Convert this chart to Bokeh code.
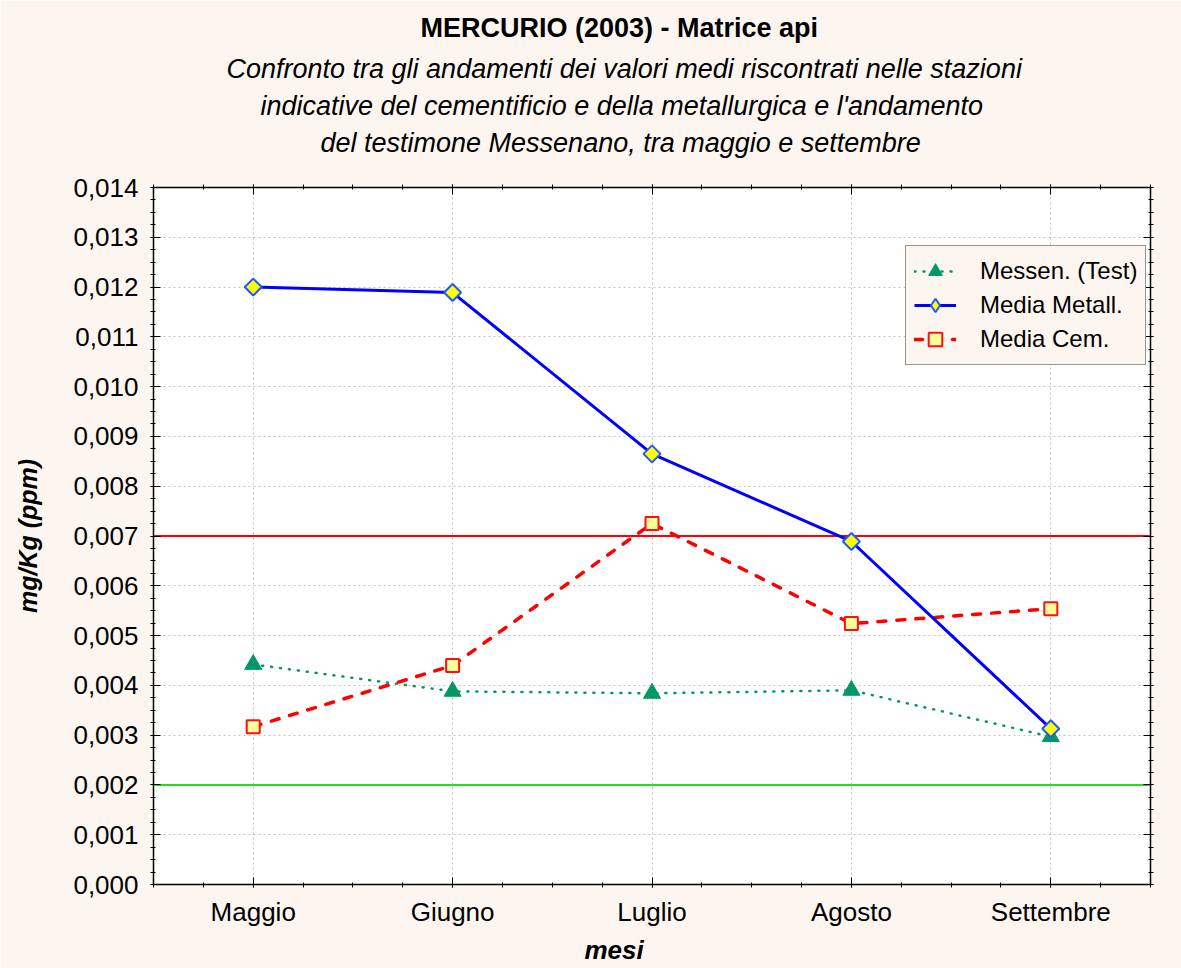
import math
from bokeh.plotting import figure
from bokeh.models import (Legend, LegendItem, Span, LinearAxis, FixedTicker, Title,
                          CustomJSTickFormatter, Range1d, Grid, ColumnDataSource)
from bokeh.embed import file_html
from bokeh.resources import INLINE

# ---- data ----
months = ["Maggio", "Giugno", "Luglio", "Agosto", "Settembre"]
messen_test = [0.00442, 0.00388, 0.00384, 0.00390, 0.00297]
media_metall = [0.01200, 0.01189, 0.00865, 0.00689, 0.00313]
media_cem = [0.00317, 0.00440, 0.00725, 0.00524, 0.00554]
soglia_alta = 0.007
soglia_bassa = 0.002
y_ticks = [0.000, 0.001, 0.002, 0.003, 0.004, 0.005, 0.006, 0.007,
           0.008, 0.009, 0.010, 0.011, 0.012, 0.013, 0.014]

title_text = "MERCURIO (2003) - Matrice api"
subtitle_lines = [
    "Confronto tra gli andamenti dei valori medi riscontrati nelle stazioni",
    "indicative del cementificio e della metallurgica e l'andamento",
    "del testimone Messenano, tra maggio e settembre",
]
x_label = "mesi"
y_label = "mg/Kg (ppm)"

xs = list(range(len(months)))
src = ColumnDataSource(dict(x=xs, messen=messen_test, metall=media_metall, cem=media_cem))

BG = "#FDF6F0"
FONT = "Liberation Sans"

p = figure(width=1181, height=968, x_range=Range1d(-0.5, len(months) - 0.5),
           y_range=Range1d(y_ticks[0], y_ticks[-1]), title=None,
           output_backend="svg", toolbar_location=None,
           x_axis_type=None, y_axis_type=None,
           min_border_left=153, min_border_right=31, min_border_top=187, min_border_bottom=84,
           background_fill_color="white", border_fill_color=BG,
           outline_line_color="black", outline_line_width=1.5)

x_minor = [-0.5 + 0.25 * k for k in range(4 * len(months) + 1)]
y_minor = [y_ticks[0] + 0.00025 * k for k in range(4 * (len(y_ticks) - 1) + 1)]
xticker = FixedTicker(ticks=xs, minor_ticks=x_minor)
yticker = FixedTicker(ticks=y_ticks, minor_ticks=y_minor)

xfmt = CustomJSTickFormatter(args=dict(labels=months), code="return labels[Math.round(tick)] || '';")
yfmt = CustomJSTickFormatter(code="return tick.toFixed(3).replace('.', ',');")
blank = CustomJSTickFormatter(code="return '';")


def style_axis(ax):
    ax.axis_line_color = "black"
    ax.major_tick_line_color = "black"
    ax.minor_tick_line_color = "black"
    ax.major_tick_in = 7
    ax.major_tick_out = 3
    ax.minor_tick_in = 2
    ax.minor_tick_out = 3
    ax.major_label_text_font = FONT
    ax.major_label_text_font_size = "26px"
    ax.major_label_text_color = "black"


bottom = LinearAxis(ticker=xticker, formatter=xfmt, major_label_standoff=9)
left = LinearAxis(ticker=yticker, formatter=yfmt, major_label_standoff=12,
                  axis_label=y_label, axis_label_standoff=28,
                  axis_label_text_font=FONT, axis_label_text_font_style="bold italic",
                  axis_label_text_font_size="25px", axis_label_text_color="black")
top = LinearAxis(ticker=xticker, formatter=blank, major_label_standoff=0)
right = LinearAxis(ticker=yticker, formatter=blank, major_label_standoff=0)
for ax in (bottom, left, top, right):
    style_axis(ax)
top.major_label_text_font_size = "0px"
right.major_label_text_font_size = "0px"
p.add_layout(bottom, "below")
p.add_layout(left, "left")
p.add_layout(right, "right")

for dim, tk in ((0, xticker), (1, yticker)):
    p.add_layout(Grid(dimension=dim, ticker=tk, grid_line_color="#C4C4C4",
                      grid_line_dash="2 3", grid_line_width=1))

p.add_layout(Span(location=soglia_alta, dimension="width", line_color="#FF0000",
                  line_width=2, level="underlay"))
p.add_layout(Span(location=soglia_bassa, dimension="width", line_color="#22DD22",
                  line_width=2, level="underlay"))

# series
l_messen = p.line("x", "messen", source=src, line_color="#009966", line_width=2.5,
                  line_dash="1 8", line_cap="round")
l_cem = p.line("x", "cem", source=src, line_color="#FF0000", line_width=3.5,
               line_dash="8 11", line_cap="round")
l_metall = p.line("x", "metall", source=src, line_color="#0000FF", line_width=3)
m_messen = p.scatter("x", "messen", source=src, marker="triangle", size=17,
                     fill_color="#009966", line_color="#009966", line_width=1)
m_metall = p.scatter("x", "metall", source=src, marker="square", angle=math.pi / 4, size=12,
                     fill_color="#FFFF00", line_color="#1E5AFF", line_width=2)
m_cem = p.scatter("x", "cem", source=src, marker="square", size=13,
                  fill_color="#FFFF99", line_color="#FF1010", line_width=2)
# legend-only diamond symbol (not a data point)
m_metall_leg = p.scatter(x=[float("nan")], y=[float("nan")], marker="diamond", size=22,
                         fill_color="#FFFF00", line_color="#1E5AFF", line_width=2)

legend = Legend(items=[
    LegendItem(label="Messen. (Test)", renderers=[l_messen, m_messen]),
    LegendItem(label="Media Metall.", renderers=[l_metall, m_metall_leg]),
    LegendItem(label="Media Cem.", renderers=[l_cem, m_cem]),
], location=(752, 519), margin=0, padding=8, spacing=0,
    glyph_width=42, glyph_height=34, label_height=34, label_standoff=24,
    label_text_font=FONT, label_text_font_size="24px", label_text_color="black",
    border_line_color="#333333", border_line_width=1.5,
    background_fill_color=BG, background_fill_alpha=1.0)
p.add_layout(legend, "center")

# titles: stacked outward from the plot frame
spacer = Title(text=" ", text_font=FONT, text_font_size="1px", standoff=21)
sub_titles = []
for line, off in zip(reversed(subtitle_lines), [167, 107, 73]):
    sub_titles.append(Title(text=line, align="left", offset=off, text_font=FONT,
                            text_font_style="italic", text_font_size="27px",
                            text_color="black", standoff=5))
main_title = Title(text=title_text, align="left", offset=267, text_font=FONT,
                   text_font_style="bold", text_font_size="27px", text_color="black",
                   standoff=13)
p.above = [top, spacer] + sub_titles + [main_title]

p.add_layout(Title(text=x_label, align="left", offset=431, text_font=FONT,
                   text_font_style="bold italic", text_font_size="26px",
                   text_color="black", standoff=6), "below")

open("out.html", "w").write(file_html(p, INLINE))
